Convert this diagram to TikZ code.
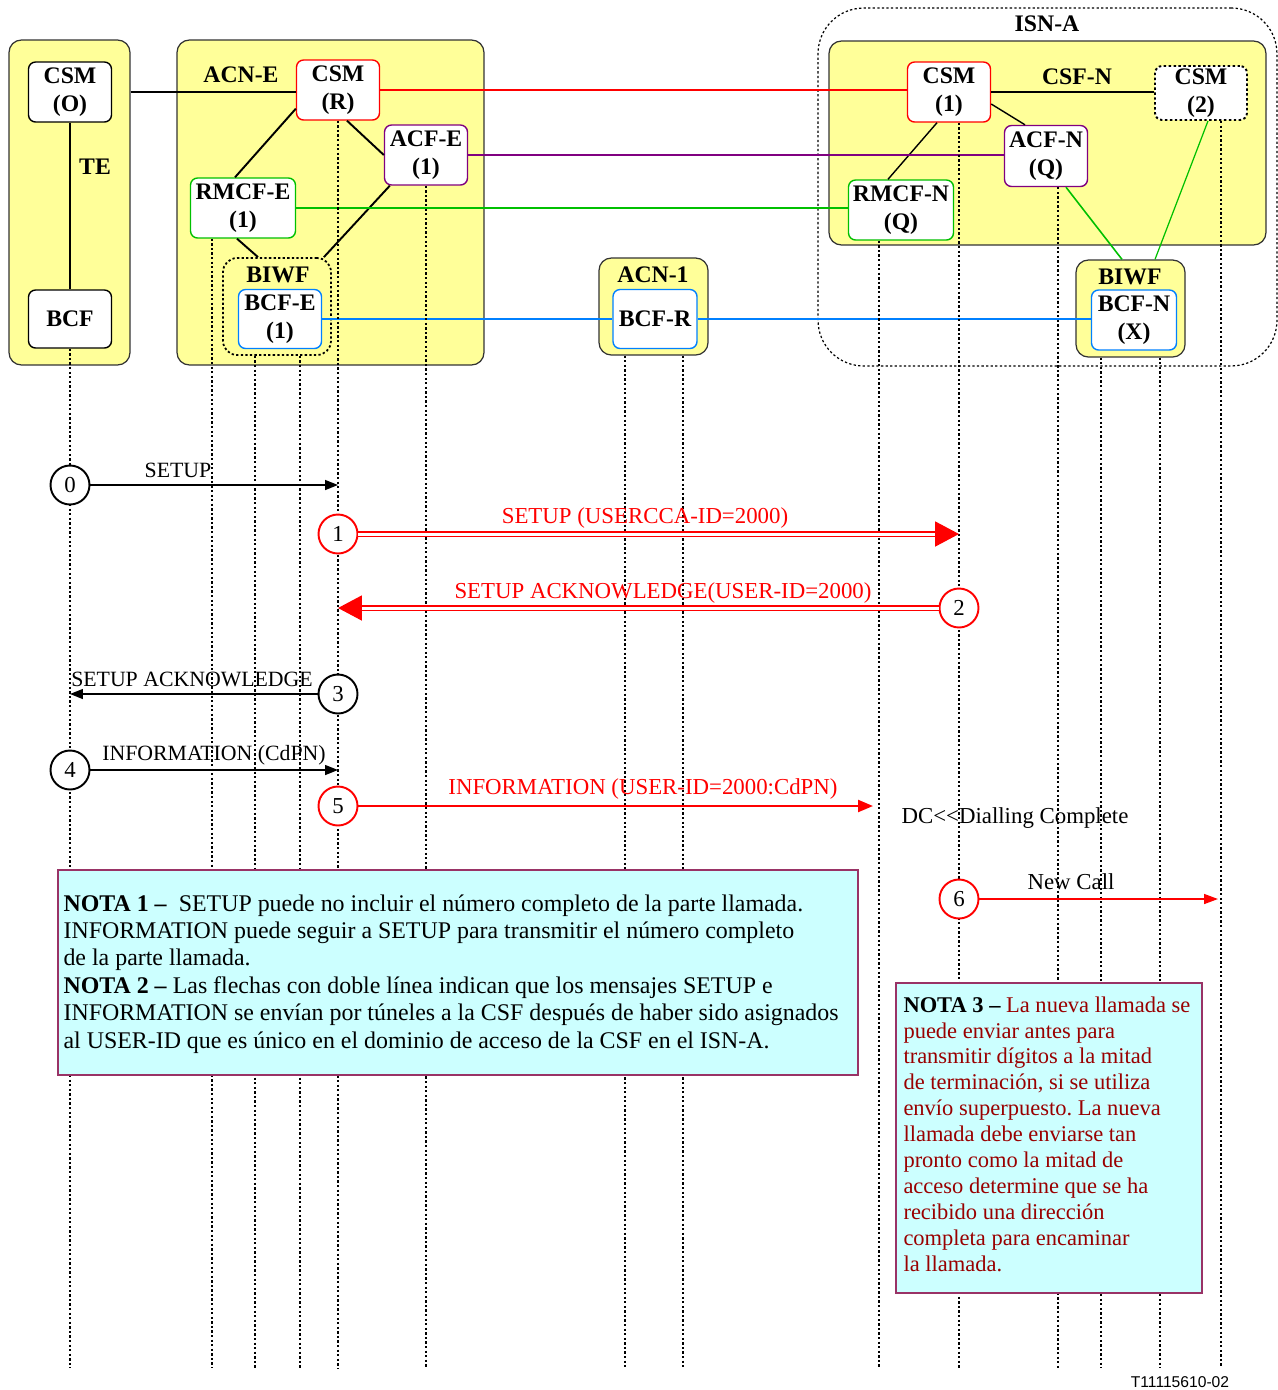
\documentclass[tikz,border=0pt]{standalone}
\usepackage{fontspec}
\setmainfont{Liberation Serif}
\newfontfamily\figsans{Liberation Sans}
\usepackage{xcolor}
\usepackage{tikz}
\usetikzlibrary{arrows.meta,positioning,calc}
\definecolor{nodeyellow}{RGB}{255,255,153}
\definecolor{notecyan}{RGB}{204,255,255}
\definecolor{noteedge}{RGB}{153,51,102}
\definecolor{notered}{RGB}{153,0,0}
\definecolor{linkred}{RGB}{255,0,0}
\definecolor{linkpurple}{RGB}{128,0,128}
\definecolor{linkgreen}{RGB}{0,192,0}
\definecolor{linkblue}{RGB}{0,128,255}
\frenchspacing
\tikzset{
  fnbox/.style={
    rectangle, rounded corners=4pt, draw=black, fill=white, line width=0.8pt,
    minimum width=1.66cm, minimum height=1.2cm, inner sep=1pt,
    align=center, font=\fontsize{13.5pt}{16pt}\selectfont\bfseries
  },
  fncontainer/.style={
    rectangle, rounded corners=7pt, draw=black!80, fill=nodeyellow, line width=0.7pt
  },
  fndomain/.style={
    rectangle, rounded corners=26pt, draw=black, line width=0.7pt,
    dash pattern=on 1.3pt off 1.3pt
  },
  fntitle/.style={font=\fontsize{13.5pt}{16pt}\selectfont\bfseries, inner sep=0pt},
  link/.style={draw=black, line width=1.1pt},
  lifeline/.style={draw=black, line width=1.1pt, dash pattern=on 1.3pt off 1.3pt},
  stepnum/.style={
    circle, draw=black, fill=white, line width=1.1pt, minimum size=0.78cm,
    inner sep=0pt, font=\fontsize{13pt}{15pt}\selectfont
  },
  msglabel/.style={font=\fontsize{13pt}{15pt}\selectfont, inner sep=0pt, anchor=base},
  msgsmall/.style={msglabel, font=\fontsize{12.4pt}{15pt}\selectfont},
  msgblack/.style={draw=black, line width=0.85pt, -{Triangle[length=0.26cm, width=0.2cm]}},
  msgred/.style={draw=linkred, line width=1.3pt, -{Triangle[length=0.3cm, width=0.24cm]}},
  msgdouble/.style={
    draw=linkred, line width=1.1pt, double=white, double distance=1.7pt,
    -{Triangle[length=0.48cm, width=0.5cm]}
  },
  notebox/.style={rectangle, draw=noteedge, fill=notecyan, line width=1pt},
  notetext/.style={
    anchor=north west, align=left, inner sep=0pt,
    font=\fontsize{13.6pt}{15.6pt}\selectfont
  },
}

\begin{document}
\begin{tikzpicture}[x=0.02cm, y=-0.02cm]
  \useasboundingbox (0,0) rectangle (1278,1390);

  \node (isna) [fndomain, minimum width=9.18cm, minimum height=7.16cm] at (1047.5,187) {};
  \node (te) [fncontainer, minimum width=2.42cm, minimum height=6.5cm] at (69.5,202.5) {};
  \node (acne) [fncontainer, minimum width=6.14cm, minimum height=6.5cm] at (330.5,202.5) {};
  \node (acn1) [fncontainer, minimum width=2.18cm, minimum height=1.94cm] at (653.5,306.5) {};
  \node (csfn) [fncontainer, minimum width=8.74cm, minimum height=4.08cm] at (1047.5,143) {};
  \node (biwfn) [fncontainer, minimum width=2.18cm, minimum height=1.94cm] at (1130.5,308.5) {};
  \node (biwfe) [fndomain, rounded corners=8pt, line width=1pt, minimum width=2.16cm, minimum height=1.94cm] at (277,306.5) {};

  \node (tte) [fntitle] at (95,167) {TE};
  \node (tacne) [fntitle] at (241,75) {ACN-E};
  \node (tbiwfe) [fntitle] at (278,275) {BIWF};
  \node (tacn1) [fntitle] at (653,275) {ACN-1};
  \node (tisna) [fntitle] at (1047,24) {ISN-A};
  \node (tcsfn) [fntitle] at (1077,77) {CSF-N};
  \node (tbiwfn) [fntitle] at (1130,277) {BIWF};

  \node (csmo) [fnbox] at (70,92) {CSM\\(O)};
  \node (bcf) [fnbox, minimum height=1.16cm] at (70,319) {BCF};
  \node (csmr) [fnbox, draw=linkred] at (338,90) {CSM\\(R)};
  \node (acfe) [fnbox, draw=linkpurple] at (426,155) {ACF-E\\(1)};
  \node (rmcfe) [fnbox, draw=linkgreen, minimum width=2.1cm] at (243,208) {RMCF-E\\(1)};
  \node (bcfe) [fnbox, draw=linkblue, minimum height=1.18cm] at (280,319) {BCF-E\\(1)};
  \node (bcfr) [fnbox, draw=linkblue, minimum width=1.68cm, minimum height=1.18cm] at (655,319) {BCF-R};
  \node (csm1) [fnbox, draw=linkred] at (949,92) {CSM\\(1)};
  \node (csm2) [fnbox, dash pattern=on 1.4pt off 1.4pt, line width=1.1pt, minimum width=1.84cm, minimum height=1.08cm] at (1201,93) {CSM\\(2)};
  \node (acfn) [fnbox, draw=linkpurple, minimum height=1.22cm] at (1046,156) {ACF-N\\(Q)};
  \node (rmcfn) [fnbox, draw=linkgreen, minimum width=2.1cm] at (901,210) {RMCF-N\\(Q)};
  \node (bcfn) [fnbox, draw=linkblue, minimum width=1.7cm] at (1134,320) {BCF-N\\(X)};

  \draw[link] (csmo) -- (bcf);
  \draw[link] (te.east |- csmo.east) -- (csmo.east -| csmr.west);
  \draw[link] ([yshift=0.24cm]csmr.south west) -- ([xshift=-0.16cm]rmcfe.north);
  \draw[link] ([xshift=0.18cm]csmr.south) -- (acfe.west);
  \draw[link] ([xshift=0.12cm]acfe.south west) -- ([xshift=-0.16cm]biwfe.north east);
  \draw[link] ([xshift=-0.12cm]rmcfe.south) -- ([xshift=-0.38cm]biwfe.north);
  \draw[link] (csm1.east) -- (csm1.east -| csm2.west);
  \draw[link, line width=0.8pt] ([xshift=-0.24cm]csm1.south) -- ([xshift=-0.26cm]rmcfn.north);
  \draw[link, line width=0.8pt] ([yshift=-0.24cm]csm1.east) -- ([xshift=-0.42cm]acfn.north);
  \draw[draw=linkgreen, line width=0.9pt] ([xshift=0.4cm]acfn.south) -- ([xshift=-0.17cm]biwfn.north);
  \draw[draw=linkgreen, line width=0.7pt] ([xshift=0.14cm]csm2.south) -- ([xshift=0.49cm]biwfn.north);
  \draw[draw=linkred, line width=1.1pt] (csmr.east) -- (csmr.east -| csm1.west);
  \draw[draw=linkpurple, line width=1.1pt] (acfe.east) -- (acfe.east -| acfn.west);
  \draw[draw=linkgreen, line width=1.1pt] (rmcfe.east) -- (rmcfe.east -| rmcfn.west);
  \draw[draw=linkblue, line width=1.1pt] (bcfe.east) -- (bcfe.east -| bcfr.west);
  \draw[draw=linkblue, line width=1.1pt] (bcfr.east) -- (bcfr.east -| bcfn.west);

  \coordinate (bottom) at (0,1368);
  \coordinate (llbcf) at (bcf.south);
  \coordinate (llrmcfe) at ([xshift=-0.62cm]rmcfe.south);
  \coordinate (llbcfea) at ([xshift=-0.44cm]biwfe.south);
  \coordinate (llbcfeb) at ([xshift=0.46cm]biwfe.south);
  \coordinate (llcsmr) at (csmr.south);
  \coordinate (llacfe) at (acfe.south);
  \coordinate (llbcfra) at ([xshift=-0.57cm]acn1.south);
  \coordinate (llbcfrb) at ([xshift=0.59cm]acn1.south);
  \coordinate (llrmcfn) at ([xshift=-0.44cm]rmcfn.south);
  \coordinate (llcsm1) at ([xshift=0.2cm]csm1.south);
  \coordinate (llacfn) at ([xshift=0.24cm]acfn.south);
  \coordinate (llbcfna) at ([xshift=-0.59cm]biwfn.south);
  \coordinate (llbcfnb) at ([xshift=0.59cm]biwfn.south);
  \coordinate (llcsm2) at ([xshift=0.4cm]csm2.south);
  \foreach \ll in {llbcf,llrmcfe,llbcfea,llbcfeb,llcsmr,llacfe,llbcfra,llbcfrb,
                   llrmcfn,llcsm1,llacfn,llbcfna,llbcfnb,llcsm2}
    \draw[lifeline] (\ll) -- (\ll |- bottom);

  \node (m0) [stepnum] at (llbcf |- 0,485) {0};
  \node (m1) [stepnum, draw=linkred] at (llcsmr |- 0,534) {1};
  \node (m2) [stepnum, draw=linkred] at (llcsm1 |- 0,608) {2};
  \node (m3) [stepnum] at (llcsmr |- 0,694) {3};
  \node (m4) [stepnum] at (llbcf |- 0,770) {4};
  \node (m5) [stepnum, draw=linkred] at (llcsmr |- 0,806) {5};
  \node (m6) [stepnum, draw=linkred] at (llcsm1 |- 0,899) {6};

  \draw[msgblack] (m0) -- (m0 -| llcsmr);
  \draw[msgdouble] (m1) -- (m1 -| llcsm1);
  \draw[msgdouble] (m2) -- (m2 -| llcsmr);
  \draw[msgblack] (m3) -- (m3 -| llbcf);
  \draw[msgblack] (m4) -- (m4 -| llcsmr);
  \draw[msgred, shorten >=0.12cm] (m5) -- (m5 -| llrmcfn);
  \draw[msgred, line width=0.9pt, -{Triangle[length=0.28cm, width=0.2cm]}, shorten >=0.06cm] (m6) -- (m6 -| llcsm2);

  \node (l0) [msgsmall] at (178,477) {SETUP};
  \node (l1) [msglabel, text=linkred] at (645,523) {SETUP (USERCCA-ID=2000)};
  \node (l2) [msglabel, text=linkred] at (663,598) {SETUP ACKNOWLEDGE(USER-ID=2000)};
  \node (l3) [msgsmall] at (192,686) {SETUP ACKNOWLEDGE};
  \node (l4) [msgsmall] at (214,760) {INFORMATION (CdPN)};
  \node (l5) [msglabel, text=linkred] at (643,794) {INFORMATION (USER-ID=2000:CdPN)};
  \node (dc) [msglabel] at (1015,823) {DC<{}<Dialling Complete};
  \node (l6) [msglabel] at (1071,889) {New Call};

  \node (nota1) [notebox, minimum width=16cm, minimum height=4.1cm] at (458,972.5) {};
  \node (nota1txt) [notetext] at ([shift={(6,25)}]nota1.north west)
    {\textbf{NOTA 1 –}\ \ SETUP puede no incluir el número completo de la parte llamada.\\
     INFORMATION puede seguir a SETUP para transmitir el número completo\\
     de la parte llamada.\\
     \textbf{NOTA 2 –} Las flechas con doble línea indican que los mensajes SETUP e\\
     INFORMATION se envían por túneles a la CSF después de haber sido asignados\\
     al USER-ID que es único en el dominio de acceso de la CSF en el ISN-A.};
  \node (nota3) [notebox, minimum width=6.12cm, minimum height=6.2cm] at (1049,1138) {};
  \node (nota3txt) [notetext, font=\fontsize{12.8pt}{14.75pt}\selectfont, text=notered]
    at ([shift={(8,14)}]nota3.north west)
    {\textbf{\color{black}NOTA 3 –} La nueva llamada se\\
     puede enviar antes para\\
     transmitir dígitos a la mitad\\
     de terminación, si se utiliza\\
     envío superpuesto. La nueva\\
     llamada debe enviarse tan\\
     pronto como la mitad de\\
     acceso determine que se ha\\
     recibido una dirección\\
     completa para encaminar\\
     la llamada.};

  \node (figid) [font=\figsans\fontsize{8.9pt}{10pt}\selectfont, inner sep=0pt] at (1180,1382) {T11115610-02};
\end{tikzpicture}
\end{document}
